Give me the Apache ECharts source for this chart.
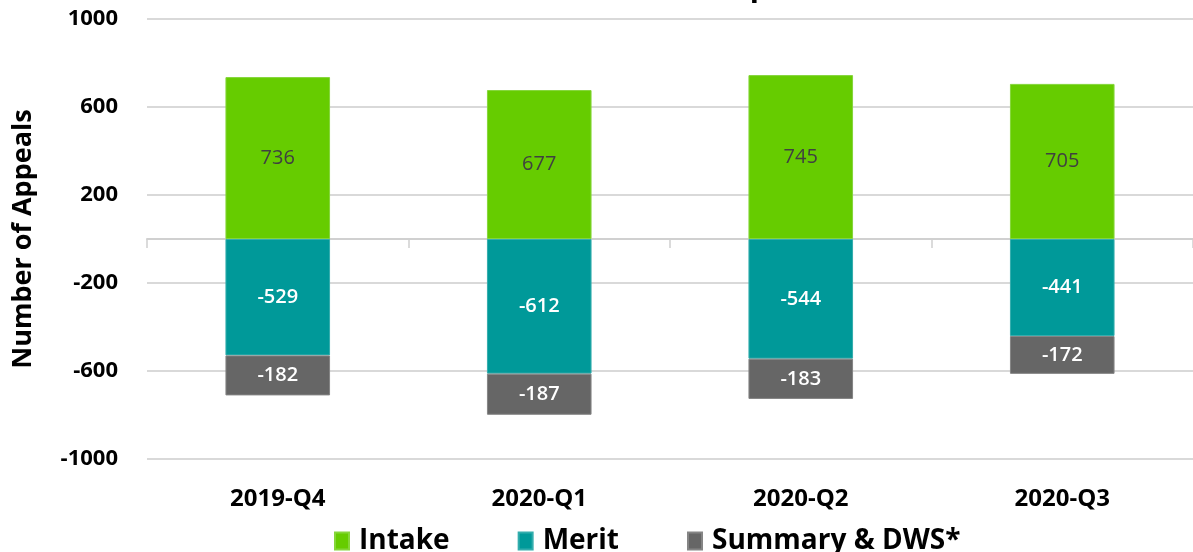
<!DOCTYPE html>
<html>
<head>
<meta charset="utf-8">
<script src="https://cdn.jsdelivr.net/npm/echarts@6/dist/echarts.min.js"></script>
<style>
  html, body { margin: 0; padding: 0; background: #fff; }
  #chart { width: 1193px; height: 552px; }
</style>
</head>
<body>
<div id="chart"></div>
<script>
// quarters and appeal counts
const quarters = ["2019-Q4", "2020-Q1", "2020-Q2", "2020-Q3"];
const intake = [736, 677, 745, 705];
const merit = [-529, -612, -544, -441];
const summary = [-182, -187, -183, -172];
const yTicks = [-1000, -600, -200, 200, 600, 1000];

const chart = echarts.init(document.getElementById("chart"));
const font = "'Open Sans', sans-serif";

const option = {
  animation: false,
  title: {
    text: "Intake vs Output",
    left: 670,
    textAlign: "center",
    top: -33,
    textStyle: { fontFamily: font, fontSize: 30, fontWeight: "bold", color: "#000" },
  },
  grid: { left: 147, top: 19, width: 1052, height: 440 },
  legend: {
    left: 329,
    top: 522,
    icon: "rect",
    itemWidth: 14,
    itemHeight: 17,
    itemGap: 68,
    textStyle: {
      fontFamily: font,
      fontSize: 28,
      fontWeight: "bold",
      color: "#000",
      padding: [0, 0, 0, 5],
    },
    data: ["Intake", "Merit", "Summary & DWS*"],
  },
  xAxis: [
    {
      type: "category",
      data: quarters,
      position: "bottom",
      axisLine: { show: false, onZero: false },
      axisTick: { show: false },
      axisLabel: {
        margin: 28,
        fontFamily: font,
        fontSize: 24,
        fontWeight: "bold",
        color: "#000",
      },
    },
    {
      type: "category",
      data: quarters,
      position: "top",
      axisLine: { show: true, onZero: true, lineStyle: { color: "#d0d0d0", width: 2 } },
      axisTick: { show: true, inside: true, length: 9, lineStyle: { color: "#d0d0d0", width: 1.5 } },
      axisLabel: { show: false },
    },
  ],
  yAxis: {
    type: "value",
    min: -1000,
    max: 1000,
    name: "Number of Appeals",
    nameLocation: "middle",
    nameGap: 110,
    nameTextStyle: { fontFamily: font, fontSize: 27, fontWeight: "bold", color: "#000" },
    axisLine: { show: false },
    axisTick: { show: false, customValues: yTicks },
    axisLabel: {
      customValues: yTicks,
      formatter: (v) => String(v),
      margin: 29,
      fontFamily: font,
      fontSize: 22,
      fontWeight: "bold",
      color: "#000",
    },
    splitLine: { show: true, lineStyle: { color: "#d9d9d9", width: 2 } },
  },
  series: [
    {
      name: "Intake",
      type: "bar",
      stack: "all",
      barWidth: "40%",
      data: intake,
      itemStyle: { color: "#66cc00", borderColor: "#85d63a", borderWidth: 1 },
      label: { show: true, position: "inside", fontFamily: font, fontSize: 20, color: "#404040" },
    },
    {
      name: "Merit",
      type: "bar",
      stack: "all",
      data: merit,
      itemStyle: { color: "#009999", borderColor: "#33adad", borderWidth: 1 },
      label: { show: true, position: "inside", fontFamily: font, fontSize: 20, fontWeight: 600, color: "#fff" },
    },
    {
      name: "Summary & DWS*",
      type: "bar",
      stack: "all",
      data: summary,
      itemStyle: { color: "#666666", borderColor: "#858585", borderWidth: 1 },
      label: { show: true, position: "inside", fontFamily: font, fontSize: 20, fontWeight: 600, color: "#fff" },
    },
  ],
};

chart.setOption(option);
</script>
</body>
</html>
